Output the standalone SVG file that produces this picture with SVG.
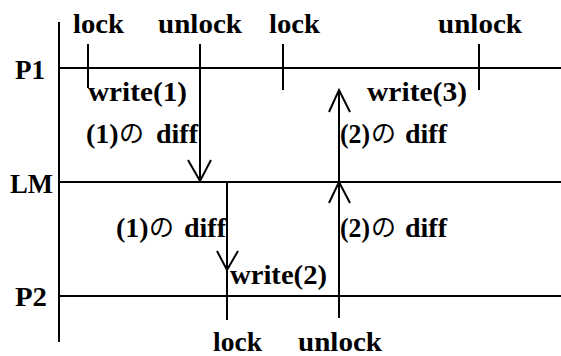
<svg xmlns="http://www.w3.org/2000/svg" width="561" height="356" viewBox="0 0 561 356">
  <style>
    .ln { stroke: #000; stroke-width: 2; fill: none; }
    .t { font-family: "Liberation Serif", "Times New Roman", serif; font-weight: bold; font-size: 28px; fill: #000; }
    .jp { font-family: "Noto Sans CJK JP", sans-serif; font-weight: normal; font-size: 25px; fill: #000; }
  </style>
  <rect width="561" height="356" fill="#fff"/>

  <!-- time axis -->
  <g id="axis">
    <line class="ln" x1="59" y1="22" x2="59" y2="342"/>
  </g>

  <!-- process lifelines -->
  <g id="P1">
    <line class="ln" x1="59" y1="68" x2="561" y2="68"/>
    <text class="t" x="15" y="79" textLength="30" lengthAdjust="spacingAndGlyphs">P1</text>
  </g>
  <g id="LM">
    <line class="ln" x1="59" y1="182" x2="561" y2="182"/>
    <text class="t" x="10" y="193" textLength="43" lengthAdjust="spacingAndGlyphs">LM</text>
  </g>
  <g id="P2">
    <line class="ln" x1="59" y1="296" x2="561" y2="296"/>
    <text class="t" x="15" y="306" textLength="32" lengthAdjust="spacingAndGlyphs">P2</text>
  </g>

  <!-- P1 events -->
  <g id="p1-lock1">
    <line class="ln" x1="88" y1="44" x2="88" y2="88"/>
    <text class="t" x="73" y="33" textLength="51" lengthAdjust="spacingAndGlyphs">lock</text>
  </g>
  <g id="p1-write1">
    <text class="t" x="88" y="101" textLength="99" lengthAdjust="spacingAndGlyphs">write(1)</text>
  </g>
  <g id="p1-unlock1">
    <text class="t" x="158" y="33" textLength="84" lengthAdjust="spacingAndGlyphs">unlock</text>
  </g>
  <g id="p1-lock2">
    <line class="ln" x1="283" y1="44" x2="283" y2="90"/>
    <text class="t" x="269" y="33" textLength="51" lengthAdjust="spacingAndGlyphs">lock</text>
  </g>
  <g id="p1-write3">
    <text class="t" x="367" y="101" textLength="100" lengthAdjust="spacingAndGlyphs">write(3)</text>
  </g>
  <g id="p1-unlock2">
    <line class="ln" x1="479" y1="44" x2="479" y2="90"/>
    <text class="t" x="438" y="33" textLength="84" lengthAdjust="spacingAndGlyphs">unlock</text>
  </g>

  <!-- P2 events -->
  <g id="p2-lock">
    <text class="t" x="213" y="351" textLength="49" lengthAdjust="spacingAndGlyphs">lock</text>
  </g>
  <g id="p2-write2">
    <text class="t" x="230" y="284" textLength="97" lengthAdjust="spacingAndGlyphs">write(2)</text>
  </g>
  <g id="p2-unlock">
    <text class="t" x="298" y="351" textLength="84" lengthAdjust="spacingAndGlyphs">unlock</text>
  </g>

  <!-- diff transfers -->
  <g id="connectors">
    <!-- P1 unlock: diff (1) to LM -->
    <line class="ln" x1="200" y1="44" x2="200" y2="181"/>
    <polyline class="ln" points="188,160 200,181 211,160"/>
    <g id="label-diff1-up">
      <text class="t" x="86" y="143">(1)</text>
      <text class="jp" x="119" y="142">の</text>
      <text class="t" x="156" y="143">diff</text>
    </g>

    <!-- P2 lock: diff (1) from LM -->
    <line class="ln" x1="227" y1="182" x2="227" y2="320"/>
    <polyline class="ln" points="217,251 227,270 238,251"/>
    <g id="label-diff1-down">
      <text class="t" x="116" y="237">(1)</text>
      <text class="jp" x="149" y="236">の</text>
      <text class="t" x="184" y="237">diff</text>
    </g>

    <!-- P2 unlock: diff (2) to LM and on to P1 -->
    <line class="ln" x1="339" y1="318" x2="339" y2="90"/>
    <polyline class="ln" points="329,203 339,182 350,203"/>
    <polyline class="ln" points="329,112 339,90 350,112"/>
    <g id="label-diff2-lower">
      <text class="t" x="340" y="237" textLength="30" lengthAdjust="spacingAndGlyphs">(2)</text>
      <text class="jp" x="371" y="236">の</text>
      <text class="t" x="405" y="237">diff</text>
    </g>
    <g id="label-diff2-upper">
      <text class="t" x="340" y="143" textLength="30" lengthAdjust="spacingAndGlyphs">(2)</text>
      <text class="jp" x="371" y="142">の</text>
      <text class="t" x="405" y="143">diff</text>
    </g>
  </g>
</svg>
